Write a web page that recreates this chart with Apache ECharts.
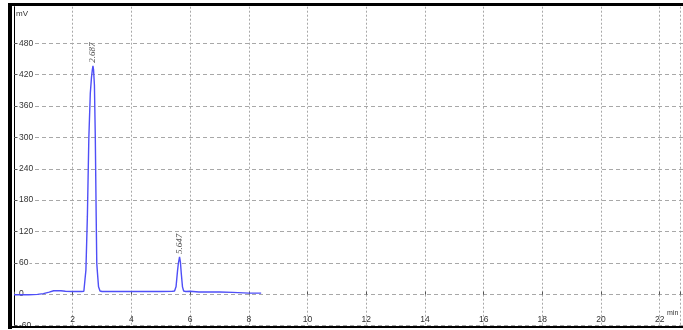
<!DOCTYPE html>
<html>
<head>
<meta charset="utf-8">
<script src="https://cdn.jsdelivr.net/npm/echarts@6/dist/echarts.min.js"></script>
<style>html,body{margin:0;padding:0;background:#fff;}#c{width:683px;height:330px;}</style>
</head>
<body>
<div id="c"></div>
<script>
// Chromatogram trace (time in min, signal in mV)
var times  = [0,0.5,0.8,1.0,1.2,1.35,1.6,1.75,2.0,2.3,2.38,2.42,2.45,2.5,2.55,2.6,2.64,2.67,2.69,2.71,2.74,2.77,2.8,2.82,2.84,2.88,2.93,3.0,3.5,3.55,3.6,4.0,4.5,5.0,5.4,5.47,5.52,5.57,5.6,5.64,5.67,5.7,5.74,5.78,5.85,6.0,6.3,7.0,7.45,7.5,8.0,8.42];
var signal = [0,0,0.5,2,5,7.5,7.5,6.5,6,6,6.5,30,47,150,300,385,415,430,437,430,400,300,150,60,44,15,7,6,6,4,6,6,6,6,6.5,7,15,45,60,72,62,40,15,7,6,6.5,5,5,4.5,3,3,3];
var peakTimes   = [2.69, 5.64];
var peakHeights = [437, 72];
var peakLabels  = ['2.687', '5.647'];
var yMin = -60, yMax = 550, yTop = 480, yStep = 60;
var xMin = 0, xMax = 22.69, xStep = 2;
var yUnit = 'mV';
var xUnit = 'min';

var lineData = times.map(function(t, i){ return [t, signal[i]]; });
var peakData = peakTimes.map(function(t, i){ return {value: [t, peakHeights[i]], name: peakLabels[i]}; });

// plot geometry
var gTop = 6.7, gBottom = 3.9, H = 330;
var pxPerUnit = (H - gTop - gBottom) / (yMax - yMin);
var gTop2 = gTop + (yMax - yTop) * pxPerUnit;

var chart = echarts.init(document.getElementById('c'), null, {renderer: 'canvas'});
var lab = {fontFamily: 'Liberation Sans', fontSize: 8.5, color: '#333'};
chart.setOption({
  animation: false,
  backgroundColor: '#fff',
  grid: [
    {left: 14, right: 0, top: gTop, bottom: gBottom, containLabel: false},
    {left: 14, right: 0, top: gTop2, bottom: gBottom, containLabel: false}
  ],
  xAxis: [{
    type: 'value', min: xMin, max: xMax, interval: xStep, gridIndex: 0,
    axisLine: {show: false},
    axisTick: {show: true, inside: true, length: 3, lineStyle: {color: '#555'}},
    axisLabel: {inside: true, margin: 2, fontFamily: lab.fontFamily, fontSize: lab.fontSize, color: lab.color,
      formatter: function(v){ return (v > 0 && Math.abs(v - Math.round(v)) < 1e-6 && Math.round(v) % 2 === 0) ? String(Math.round(v)) : ''; }},
    splitLine: {show: true, lineStyle: {color: '#a8a8a8', type: [2, 2], width: 1}}
  }, {
    type: 'value', min: xMin, max: xMax, gridIndex: 1, show: false
  }],
  yAxis: [{
    type: 'value', min: yMin, max: yMax, interval: yStep, gridIndex: 0,
    axisLine: {show: true, lineStyle: {color: '#000', width: 1}},
    axisTick: {show: false},
    axisLabel: {show: false},
    splitLine: {show: false}
  }, {
    type: 'value', min: yMin, max: yTop, interval: yStep, gridIndex: 1,
    axisLine: {show: false},
    axisTick: {show: true, inside: true, length: 3, lineStyle: {color: '#555'}},
    axisLabel: {inside: true, margin: 4, fontFamily: lab.fontFamily, fontSize: lab.fontSize, color: lab.color,
      backgroundColor: '#fff', padding: [0, 1]},
    splitLine: {show: true, lineStyle: {color: '#a8a8a8', type: [4, 3], width: 1}}
  }],
  series: [
    {
      type: 'line', data: lineData, showSymbol: false, smooth: false, xAxisIndex: 0, yAxisIndex: 0,
      lineStyle: {color: '#4f4ff7', width: 1.4}, itemStyle: {color: '#4f4ff7'}, z: 3
    },
    {
      type: 'scatter', data: peakData, symbolSize: 0, z: 4, xAxisIndex: 0, yAxisIndex: 0,
      label: {show: true, position: 'top', distance: 3, rotate: 90, align: 'left', verticalAlign: 'middle',
        fontFamily: 'Liberation Serif', fontStyle: 'italic', fontSize: 9, color: '#222',
        formatter: function(p){ return p.name; }}
    }
  ],
  graphic: [
    {type: 'rect', shape: {x: 8, y: 3, width: 675, height: 3}, style: {fill: '#000'}, z: 100},
    {type: 'rect', shape: {x: 8, y: 3, width: 4, height: 326}, style: {fill: '#000'}, z: 100},
    {type: 'rect', shape: {x: 8, y: 326, width: 675, height: 2}, style: {fill: '#000'}, z: 100},
    {type: 'text', left: 16, top: 10, style: {text: yUnit, fontFamily: 'Liberation Sans', fontSize: 8, fill: '#333'}, z: 101},
    {type: 'text', left: 667, top: 310, style: {text: xUnit, fontFamily: 'Liberation Sans', fontSize: 7, fill: '#333'}, z: 101}
  ]
});
</script>
</body>
</html>
